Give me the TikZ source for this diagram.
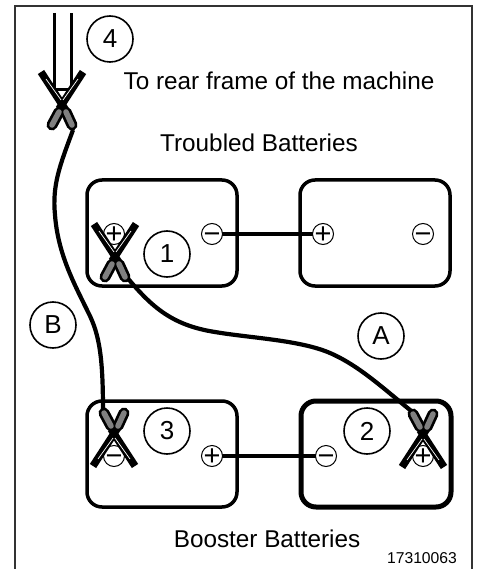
\documentclass[tikz,border=0pt]{standalone}
\usepackage{fontspec}
\setmainfont{Liberation Sans}
\usetikzlibrary{positioning}

\begin{document}
\begin{tikzpicture}[
    x=1pt, y=-1pt,
    battery/.style={rectangle, draw=black, line width=3.5pt, rounded corners=15pt, minimum width=150pt, minimum height=106pt, inner sep=0pt},
    terminal/.style={circle, draw=black, fill=white, line width=1pt, minimum size=21pt, inner sep=-6pt, text height=20pt, text depth=0.4pt, font=\fontsize{29}{29}\selectfont},
    callout/.style={circle, draw=black, line width=1.6pt, minimum size=46pt, inner sep=0pt, font=\fontsize{26}{26}\selectfont},
    label_text/.style={inner sep=0pt, anchor=base, font=\fontsize{24.3}{26}\selectfont},
    wire/.style={line width=4.5pt, black},
    cable/.style={line width=4.2pt, black},
    clamp/.pic={
        \draw[line width=7.5pt] (-21,-33) -- (3,4);
        \draw[line width=7.5pt] (21,-33) -- (-3,4);
        \draw[white, line width=0.7pt] (-16,-26) -- (-1,-5);
        \draw[white, line width=0.7pt] (16,-26) -- (1,-5);
        \draw[line width=11pt, line cap=round] (-3,7) -- (-10,20);
        \draw[line width=11pt, line cap=round] (4,7) -- (10,20);
        \draw[gray, line width=5.5pt, line cap=round] (-3,7) -- (-10,20);
        \draw[gray, line width=5.5pt, line cap=round] (4,7) -- (10,20);
    }
]
\useasboundingbox (0,0) rectangle (478,569);

% Frame
\draw[line width=1.5pt, black!80] (15,569) -- (15,6) -- (472,6) -- (472,569);

% --- Texts ---
\node[label_text] (rear) at (279,90) {To rear frame of the machine};
\node[label_text] (troubled) at (259,152) {Troubled Batteries};
\node[label_text] (booster) at (267,547) {Booster Batteries};
\node[inner sep=0pt, anchor=base, font=\fontsize{15.7}{16}\selectfont] (partno) at (422,563) {17310063};

% --- Batteries ---
\node[battery] (Bat1) at (162,233) {};
\node[battery] (Bat2) at (375,233) {};
\node[battery] (Bat3) at (162,454) {};
\node[battery, line width=5pt] (Bat4) at (376,454) {};

% Terminals go on later, the wires run underneath
\coordinate (T1p) at (114,234);
\coordinate (T1m) at (212,234);
\coordinate (T2p) at (323,234);
\coordinate (T2m) at (423,234);
\coordinate (T3m) at (114,456);
\coordinate (T3p) at (212,456);
\coordinate (T4m) at (326,456);
\coordinate (T4p) at (423,456);

\draw[wire] (T1m) -- (T2p);
\draw[wire] (T3p) -- (T4m);

\node[terminal] (N1p) at (T1p) {+};
\node[terminal] (N1m) at (T1m) {−};
\node[terminal] (N2p) at (T2p) {+};
\node[terminal] (N2m) at (T2m) {−};
\node[terminal] (N3m) at (T3m) {−};
\node[terminal] (N3p) at (T3p) {+};
\node[terminal] (N4m) at (T4m) {−};
\node[terminal] (N4p) at (T4p) {+};

% --- Callouts ---
\node[callout] (one) at (167,254) {1};
\node[callout] (two) at (367,431) {2};
\node[callout] (three) at (167,431) {3};
\node[callout] (four) at (110,39) {4};
\node[callout] (A) at (381,336) {A};
\node[callout] (B) at (53,325) {B};

% --- Cables ---
\coordinate (ClipA1) at (125,275);
\coordinate (ClipA2) at (415,414);
\coordinate (ClipB1) at (73,130);
\coordinate (ClipB2) at (103,412);

\draw[cable] (ClipA1) .. controls (150,305) and (170,325) .. (215,332)
    .. controls (250,338) and (300,340) .. (330,353)
    .. controls (360,366) and (385,390) .. (ClipA2);
\draw[cable] (ClipB1) .. controls (60,165) and (52,185) .. (55,215)
    .. controls (58,255) and (75,285) .. (88,312)
    .. controls (100,335) and (103,360) .. (ClipB2);

% Cable coming from the rear frame
\coordinate (RearL) at (54.5,13);
\coordinate (RearR) at (71,13);
\draw[line width=3pt, line join=miter] (RearL) -- (54.5,90) -- (71,90) -- (RearR);

% --- Clamps ---
\pic at (62,105) {clamp};
\pic at (115,257) {clamp};
\pic[yscale=-1] at (114,433) {clamp};
\pic[yscale=-1] at (423,434) {clamp};

\end{tikzpicture}
\end{document}
